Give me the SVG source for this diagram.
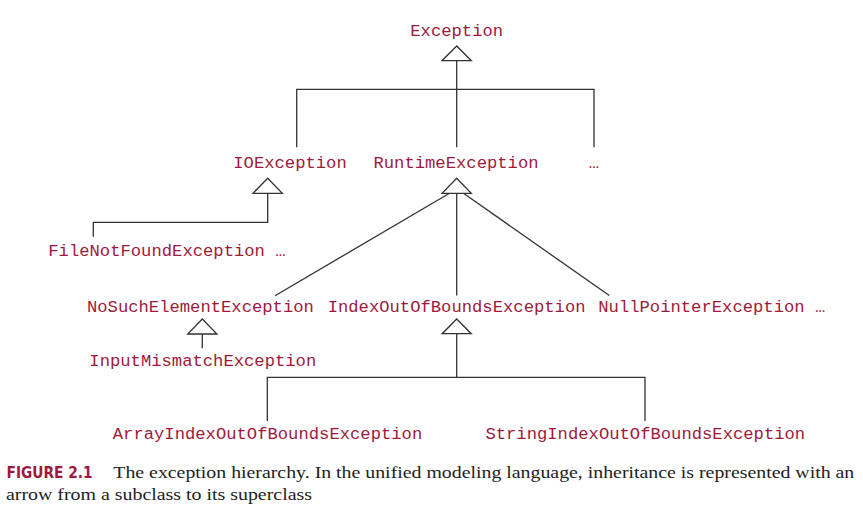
<svg xmlns="http://www.w3.org/2000/svg" width="863" height="510" viewBox="0 0 863 510">
<style>
.n{font-family:"Liberation Mono","Courier New",monospace;font-size:17.2px;fill:#9e1a3c;text-anchor:middle}
.c{stroke:#333;stroke-width:1.3;fill:none}
.t{stroke:#333;stroke-width:1.3;fill:#fff}
.cap{font-family:"Liberation Serif","Times New Roman",serif;font-size:17px;fill:#222}
.fig{font-family:"Liberation Sans Narrow","DejaVu Sans Condensed","Liberation Sans",sans-serif;font-weight:bold;font-size:16px;fill:#9e1a3c}
</style>
<rect width="863" height="510" fill="#fff"/>
<g id="connectors">
<polyline class="c" points="456.7,61 456.7,147.3"/>
<polyline class="c" points="296.7,147.3 296.7,89.3 594,89.3 594,147.3"/>
<polyline class="c" points="267.7,193.3 267.7,222.3 93.3,222.3 93.3,236.7"/>
<line class="c" x1="449.5" y1="193.3" x2="275" y2="295.7"/>
<line class="c" x1="456.7" y1="193.3" x2="456.7" y2="295.5"/>
<line class="c" x1="463.5" y1="193.3" x2="609.3" y2="295.5"/>
<line class="c" x1="202.3" y1="334" x2="202.3" y2="348.3"/>
<polyline class="c" points="456.7,334 456.7,377.3"/>
<polyline class="c" points="267.3,421 267.3,377.3 645,377.3 645,421"/>
<polygon class="t" points="456.7,46 442,60.7 471.3,60.7"/>
<polygon class="t" points="267.7,178.3 253,193.3 282.3,193.3"/>
<polygon class="t" points="456.7,178.3 442,193.3 471.3,193.3"/>
<polygon class="t" points="202.3,319 187.7,334 216.9,334"/>
<polygon class="t" points="456.7,319 442.2,333.7 471.2,333.7"/>
</g>
<g id="exception"><text class="n" x="456.7" y="36">Exception</text></g>
<g id="ioexception"><text class="n" x="290" y="168">IOException</text></g>
<g id="runtimeexception"><text class="n" x="456" y="168">RuntimeException</text></g>
<g id="more1"><text class="n" x="594" y="168">…</text></g>
<g id="filenotfound"><text class="n" x="48.3" y="256" style="text-anchor:start">FileNotFoundException …</text></g>
<g id="nosuchelement"><text class="n" x="200.4" y="312">NoSuchElementException</text></g>
<g id="indexoutofbounds"><text class="n" x="456.6" y="312">IndexOutOfBoundsException</text></g>
<g id="nullpointer"><text class="n" x="598.3" y="312" style="text-anchor:start">NullPointerException …</text></g>
<g id="inputmismatch"><text class="n" x="202.8" y="366">InputMismatchException</text></g>
<g id="arrayindex"><text class="n" x="267.5" y="438.5">ArrayIndexOutOfBoundsException</text></g>
<g id="stringindex"><text class="n" x="645.3" y="438.5">StringIndexOutOfBoundsException</text></g>
<g id="caption">
<text class="fig" x="6.5" y="477.7" textLength="86" lengthAdjust="spacingAndGlyphs">FIGURE 2.1</text>
<text class="cap" x="113.3" y="477.7" textLength="741" lengthAdjust="spacingAndGlyphs">The exception hierarchy. In the unified modeling language, inheritance is represented with an</text>
<text class="cap" x="6" y="500" textLength="306" lengthAdjust="spacingAndGlyphs">arrow from a subclass to its superclass</text>
</g>
</svg>
